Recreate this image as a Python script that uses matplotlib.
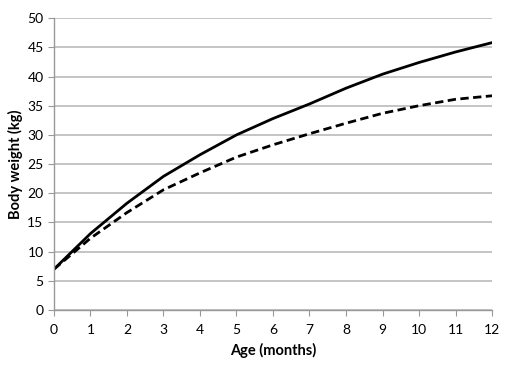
import matplotlib
matplotlib.use('Agg')
import matplotlib.pyplot as plt

plt.rcParams['font.family'] = ['Lato', 'DejaVu Sans']

age = [0, 1, 2, 3, 4, 5, 6, 7, 8, 9, 10, 11, 12]
weight_solid = [7.0, 13.1, 18.3, 22.9, 26.6, 30.0, 32.8, 35.3, 38.0, 40.4, 42.4, 44.2, 45.8]
weight_dashed = [7.0, 12.3, 16.7, 20.6, 23.5, 26.2, 28.3, 30.2, 32.0, 33.7, 35.0, 36.1, 36.7]

fig = plt.figure(figsize=(5.19, 3.70), dpi=100)
ax = fig.add_axes([0.104, 0.162, 0.844, 0.789])

ax.plot(age, weight_solid, color='black', lw=2, solid_joinstyle='round')
ax.plot(age, weight_dashed, color='black', lw=2, dashes=(3, 1.6))

ax.set_xlim(0, 12)
ax.set_ylim(0, 50)
ax.set_xticks(range(0, 13))
ax.set_yticks(range(0, 51, 5))
ax.yaxis.grid(True, color='#bfbfbf', lw=1.3)
ax.set_axisbelow(True)

for s in ['top', 'right']:
    ax.spines[s].set_visible(False)
for s in ['left', 'bottom']:
    ax.spines[s].set_color('#999999')
    ax.spines[s].set_linewidth(1)
ax.tick_params(axis='both', colors='#999999', labelcolor='black', labelsize=10, length=4)
ax.tick_params(axis='x', pad=6)

ax.set_xlabel('Age (months)', fontweight='bold', fontsize=10.5, labelpad=5)
ax.set_ylabel('Body weight (kg)', fontweight='bold', fontsize=10.5, labelpad=3)

fig.savefig('out.png', dpi=100)
